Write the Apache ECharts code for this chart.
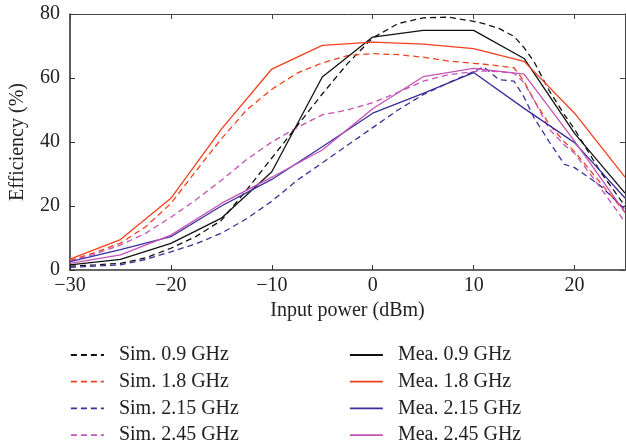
<!DOCTYPE html>
<html>
<head>
<meta charset="utf-8">
<script src="https://cdn.jsdelivr.net/npm/echarts@6/dist/echarts.min.js"></script>
<style>html,body{margin:0;padding:0;background:#fff}#c{width:626px;height:447px}</style>
</head>
<body>
<div id="c"></div>
<script>
var xTicks = [-30, -20, -10, 0, 10, 20];
var yTicks = [0, 20, 40, 60, 80];

var meaX = [-30, -25, -20, -15, -10, -5, 0, 5, 10, 15, 20, 25];
var mea09  = [1.6, 3.3, 8.3, 16.2, 30.7, 60.3, 72.8, 74.9, 74.9, 66.1, 42.7, 24];
var mea18  = [3.4, 9.5, 22.4, 44, 62.8, 70.2, 71.2, 70.6, 69.2, 65.2, 49, 29];
var mea215 = [2.6, 6.4, 10.4, 20, 28.3, 38.5, 49, 55.2, 61.7, 50.5, 39.8, 22.5];
var mea245 = [2.1, 4.7, 10.9, 20.8, 29, 37.5, 50.4, 60.4, 63, 61.2, 40.3, 18];

var simX = [-30, -27.5, -25, -22.5, -20, -17.5, -15, -12.5, -10, -7.5, -5, -2.5, 0, 2.5, 5, 7.5, 10, 11, 12.5, 14, 15, 16, 17.5, 19, 20, 22.5, 25];
var sim09  = [1.2, 1.6, 2.1, 3.8, 6.8, 10.5, 15.5, 25, 35, 45, 55, 64.5, 72.5, 77, 78.8, 79, 77.7, 77, 75.5, 73, 69.5, 65, 56, 48.5, 44, 31, 20];
var sim18  = [3, 5.5, 8.4, 13.5, 20.8, 31, 41, 50, 56.5, 61.5, 64.7, 67, 67.6, 67.3, 66.5, 65.3, 64.6, 64.3, 63.8, 63.2, 59, 53, 45.5, 40, 37, 27.5, 18];
var sim215 = [0.8, 1.2, 1.6, 3.3, 5.7, 8.2, 11.5, 16, 21.5, 28, 33.5, 39, 44.5, 50, 54.8, 58.5, 62, 63.5, 59.5, 59, 54, 47.5, 40, 33, 32, 26.5, 19];
var sim245 = [2.8, 5, 7.8, 11.5, 16.5, 22, 28, 34.5, 40, 44.5, 48.5, 50, 52.3, 55.5, 59, 61, 62, 62.2, 62, 61.5, 58.5, 53, 44, 39, 36.5, 26, 15];

var names = {
  s09: 'Sim. 0.9 GHz', s18: 'Sim. 1.8 GHz', s215: 'Sim. 2.15 GHz', s245: 'Sim. 2.45 GHz',
  m09: 'Mea. 0.9 GHz', m18: 'Mea. 1.8 GHz', m215: 'Mea. 2.15 GHz', m245: 'Mea. 2.45 GHz'
};
var cBlack = '#111111', cRed = '#f2401e', cBlue = '#3a2e9c', cMag = '#c452b6';

function pairs(xs, ys) { return xs.map(function (x, i) { return [x, ys[i]]; }); }
function mk(name, xs, ys, color, dashed) {
  return {
    name: name, type: 'line', data: pairs(xs, ys), symbol: 'none', showSymbol: false,
    color: color, lineStyle: { color: color, width: 1.3, type: dashed ? [6, 4] : 'solid' },
    emphasis: { disabled: true }, animation: false
  };
}
var font = 'Liberation Serif';
function fmt(v) { return String(v).replace('-', '\u2212'); }

function legendCfg(list, left) {
  return {
    data: list, orient: 'vertical', left: left, top: 345, padding: 0,
    itemWidth: 33, itemHeight: 14, itemGap: 6.7, selectedMode: false,
    itemStyle: { opacity: 0 },
    lineStyle: { width: 1.8 },
    textStyle: { fontFamily: font, fontSize: 20, color: '#222', padding: [0, 0, 0, 10] }
  };
}

var chart = echarts.init(document.getElementById('c'));
chart.setOption({
  backgroundColor: '#fff',
  animation: false,
  grid: { left: 70, right: 1, top: 14, bottom: 177 },
  xAxis: [{
    type: 'value', min: -30, max: 25, interval: 10, position: 'bottom',
    name: 'Input power (dBm)', nameLocation: 'middle', nameGap: 30,
    nameTextStyle: { fontFamily: font, fontSize: 20, color: '#222' },
    axisLine: { show: true, onZero: false, lineStyle: { color: '#333', width: 1.6 } },
    axisTick: { show: true, inside: true, length: 5, lineStyle: { color: '#333', width: 1 } },
    axisLabel: { fontFamily: font, fontSize: 20, color: '#222', margin: 6, showMaxLabel: false, formatter: fmt },
    splitLine: { show: false }
  }, {
    type: 'value', min: -30, max: 25, interval: 10, position: 'top',
    axisLine: { show: true, onZero: false, lineStyle: { color: '#444', width: 1 } },
    axisTick: { show: true, inside: true, length: 5, lineStyle: { color: '#444', width: 1 } },
    axisLabel: { show: false }, splitLine: { show: false }
  }],
  yAxis: [{
    type: 'value', min: 0, max: 80, interval: 20, position: 'left',
    name: 'Efficiency (%)', nameLocation: 'middle', nameGap: 42, nameRotate: 90,
    nameTextStyle: { fontFamily: font, fontSize: 20, color: '#222' },
    axisLine: { show: true, onZero: false, lineStyle: { color: '#333', width: 1.6 } },
    axisTick: { show: true, inside: true, length: 5, lineStyle: { color: '#333', width: 1 } },
    axisLabel: { fontFamily: font, fontSize: 20, color: '#222', margin: 10 },
    splitLine: { show: false }
  }, {
    type: 'value', min: 0, max: 80, interval: 20, position: 'right',
    axisLine: { show: true, onZero: false, lineStyle: { color: '#444', width: 1 } },
    axisTick: { show: true, inside: true, length: 5, lineStyle: { color: '#444', width: 1 } },
    axisLabel: { show: false }, splitLine: { show: false }
  }],
  legend: [
    legendCfg([names.s09, names.s18, names.s215, names.s245], 70),
    legendCfg([names.m09, names.m18, names.m215, names.m245], 349)
  ],
  series: [
    mk(names.s09, simX, sim09, cBlack, true),
    mk(names.s18, simX, sim18, cRed, true),
    mk(names.s215, simX, sim215, cBlue, true),
    mk(names.s245, simX, sim245, cMag, true),
    mk(names.m09, meaX, mea09, cBlack, false),
    mk(names.m18, meaX, mea18, cRed, false),
    mk(names.m215, meaX, mea215, cBlue, false),
    mk(names.m245, meaX, mea245, cMag, false)
  ]
});
</script>
</body>
</html>
